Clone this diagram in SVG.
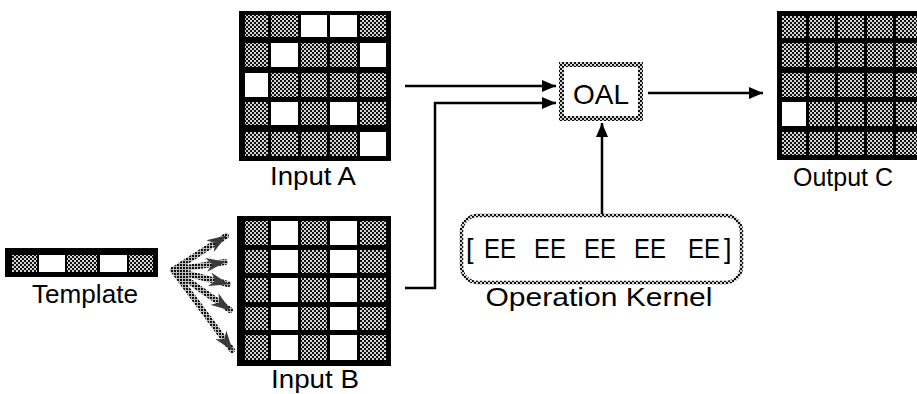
<svg xmlns="http://www.w3.org/2000/svg" width="917" height="394" viewBox="0 0 917 394">
<defs>
<pattern id="h" width="4" height="4" patternUnits="userSpaceOnUse"><rect width="4" height="4" fill="#d4d4d4"/><rect width="2" height="2" fill="#111"/><rect x="2" y="2" width="2" height="2" fill="#111"/></pattern>
<pattern id="hf" width="3" height="3" patternUnits="userSpaceOnUse"><rect width="3" height="3" fill="#bbb"/><rect width="2" height="2" fill="#111"/></pattern>
<marker id="ah" viewBox="0 0 14 12" refX="14" refY="6" markerWidth="14" markerHeight="12" markerUnits="userSpaceOnUse" orient="auto"><path d="M0,0 L14,6 L0,12 Z" fill="#000"/></marker>
<marker id="fh" viewBox="0 0 20 14" refX="19" refY="7" markerWidth="20" markerHeight="14" markerUnits="userSpaceOnUse" orient="auto"><path d="M0,0 L20,7 L0,14 L6,7 Z" fill="#3a3a3a"/></marker>
</defs>
<style>
.lbl{font-family:"Liberation Sans",Arial,sans-serif;font-size:25px;fill:#000;text-anchor:middle}
.k{font-family:"Liberation Sans",Arial,sans-serif;font-size:27px;fill:#000}
.g{fill:url(#h)}
.w{fill:#fff}
.frame{fill:#000}
.conn{fill:none;stroke:#000;stroke-width:2.5}
.fan{fill:none;stroke:url(#hf);stroke-width:6;stroke-linecap:round}
</style>
<rect width="917" height="394" fill="#fff"/>

<g id="inputA">
<rect class="frame" x="239" y="11" width="152" height="150"/>
<rect class="g" x="245" y="15" width="23" height="22"/><rect class="g" x="271" y="15" width="27" height="22"/><rect class="w" x="301" y="15" width="26" height="22"/><rect class="w" x="330" y="15" width="27" height="22"/><rect class="g" x="360" y="15" width="26" height="22"/>
<rect class="g" x="245" y="43" width="23" height="24"/><rect class="w" x="271" y="43" width="27" height="24"/><rect class="g" x="301" y="43" width="26" height="24"/><rect class="g" x="330" y="43" width="27" height="24"/><rect class="w" x="360" y="43" width="26" height="24"/>
<rect class="w" x="245" y="73" width="23" height="24"/><rect class="g" x="271" y="73" width="27" height="24"/><rect class="g" x="301" y="73" width="26" height="24"/><rect class="g" x="330" y="73" width="27" height="24"/><rect class="g" x="360" y="73" width="26" height="24"/>
<rect class="g" x="245" y="102" width="23" height="23"/><rect class="w" x="271" y="102" width="27" height="23"/><rect class="g" x="301" y="102" width="26" height="23"/><rect class="w" x="330" y="102" width="27" height="23"/><rect class="g" x="360" y="102" width="26" height="23"/>
<rect class="g" x="245" y="132" width="23" height="24"/><rect class="g" x="271" y="132" width="27" height="24"/><rect class="g" x="301" y="132" width="26" height="24"/><rect class="g" x="330" y="132" width="27" height="24"/><rect class="w" x="360" y="132" width="26" height="24"/>
<text class="lbl" x="313" y="185" textLength="86" lengthAdjust="spacingAndGlyphs">Input A</text>
</g>

<g id="inputB">
<rect class="frame" x="237" y="216" width="154" height="150"/>
<g>
<rect class="g" x="245" y="221" width="23" height="24"/><rect class="w" x="271" y="221" width="27" height="24"/><rect class="g" x="301" y="221" width="26" height="24"/><rect class="w" x="330" y="221" width="27" height="24"/><rect class="g" x="360" y="221" width="26" height="24"/>
<rect class="g" x="245" y="250" width="23" height="23"/><rect class="w" x="271" y="250" width="27" height="23"/><rect class="g" x="301" y="250" width="26" height="23"/><rect class="w" x="330" y="250" width="27" height="23"/><rect class="g" x="360" y="250" width="26" height="23"/>
<rect class="g" x="245" y="278" width="23" height="24"/><rect class="w" x="271" y="278" width="27" height="24"/><rect class="g" x="301" y="278" width="26" height="24"/><rect class="w" x="330" y="278" width="27" height="24"/><rect class="g" x="360" y="278" width="26" height="24"/>
<rect class="g" x="245" y="307" width="23" height="23"/><rect class="w" x="271" y="307" width="27" height="23"/><rect class="g" x="301" y="307" width="26" height="23"/><rect class="w" x="330" y="307" width="27" height="23"/><rect class="g" x="360" y="307" width="26" height="23"/>
<rect class="g" x="245" y="335" width="23" height="25"/><rect class="w" x="271" y="335" width="27" height="25"/><rect class="g" x="301" y="335" width="26" height="25"/><rect class="w" x="330" y="335" width="27" height="25"/><rect class="g" x="360" y="335" width="26" height="25"/>
</g>
<text class="lbl" x="315" y="388" textLength="88" lengthAdjust="spacingAndGlyphs">Input B</text>
</g>

<g id="template">
<rect class="frame" x="5" y="248" width="153" height="29"/>
<rect class="g" x="12" y="255" width="25" height="17"/><rect class="w" x="39" y="255" width="26" height="17"/><rect class="g" x="67" y="255" width="30" height="17"/><rect class="w" x="100" y="255" width="27" height="17"/><rect class="g" x="129" y="255" width="24" height="17"/>
<text class="lbl" x="85" y="303" textLength="106" lengthAdjust="spacingAndGlyphs">Template</text>
</g>

<g id="outputC">
<rect class="frame" x="777" y="11" width="150" height="149"/>
<g>
<rect class="g" x="782" y="16" width="24" height="22"/><rect class="g" x="809" y="16" width="26" height="22"/><rect class="g" x="838" y="16" width="26" height="22"/><rect class="g" x="867" y="16" width="26" height="22"/><rect class="g" x="896" y="16" width="26" height="22"/>
<rect class="g" x="782" y="43" width="24" height="24"/><rect class="g" x="809" y="43" width="26" height="24"/><rect class="g" x="838" y="43" width="26" height="24"/><rect class="g" x="867" y="43" width="26" height="24"/><rect class="g" x="896" y="43" width="26" height="24"/>
<rect class="g" x="782" y="73" width="24" height="24"/><rect class="g" x="809" y="73" width="26" height="24"/><rect class="g" x="838" y="73" width="26" height="24"/><rect class="g" x="867" y="73" width="26" height="24"/><rect class="g" x="896" y="73" width="26" height="24"/>
<rect class="w" x="782" y="102" width="24" height="24"/><rect class="g" x="809" y="102" width="26" height="24"/><rect class="g" x="838" y="102" width="26" height="24"/><rect class="g" x="867" y="102" width="26" height="24"/><rect class="g" x="896" y="102" width="26" height="24"/>
<rect class="g" x="782" y="132" width="24" height="23"/><rect class="g" x="809" y="132" width="26" height="23"/><rect class="g" x="838" y="132" width="26" height="23"/><rect class="g" x="867" y="132" width="26" height="23"/><rect class="g" x="896" y="132" width="26" height="23"/>
</g>
<text class="lbl" x="843" y="186" textLength="100" lengthAdjust="spacingAndGlyphs">Output C</text>
</g>

<g id="oal">
<rect class="g" x="559" y="62" width="84" height="59"/>
<rect class="w" x="564" y="67" width="74" height="49"/>
<text class="lbl" x="601" y="104" style="font-size:28px">OAL</text>
</g>

<g id="kernel">
<rect x="461.5" y="215.5" width="280" height="67" rx="16" ry="16" fill="#fff" stroke="url(#h)" stroke-width="3.5"/>
<text class="k" x="466" y="258">[</text>
<text class="k" x="484" y="258" textLength="32" lengthAdjust="spacingAndGlyphs">EE</text>
<text class="k" x="534" y="258" textLength="32" lengthAdjust="spacingAndGlyphs">EE</text>
<text class="k" x="584" y="258" textLength="32" lengthAdjust="spacingAndGlyphs">EE</text>
<text class="k" x="634" y="258" textLength="32" lengthAdjust="spacingAndGlyphs">EE</text>
<text class="k" x="688" y="258" textLength="32" lengthAdjust="spacingAndGlyphs">EE</text>
<text class="k" x="724" y="258">]</text>
<text class="lbl" x="599" y="306" textLength="227" lengthAdjust="spacingAndGlyphs">Operation Kernel</text>
</g>

<g id="connectors">
<path class="conn" d="M405,86 H556" marker-end="url(#ah)"/>
<path class="conn" d="M405,288 H435 V103 H556" marker-end="url(#ah)"/>
<path class="conn" d="M648,93 H763" marker-end="url(#ah)"/>
<path class="conn" d="M602,214 V123" marker-end="url(#ah)"/>
<path class="fan" d="M173,270 L226,236" marker-end="url(#fh)"/>
<path class="fan" d="M173,270 L225,262" marker-end="url(#fh)"/>
<path class="fan" d="M173,270 L228,284" marker-end="url(#fh)"/>
<path class="fan" d="M173,270 L230,310" marker-end="url(#fh)"/>
<path class="fan" d="M173,270 L232,350" marker-end="url(#fh)"/>
</g>
</svg>
